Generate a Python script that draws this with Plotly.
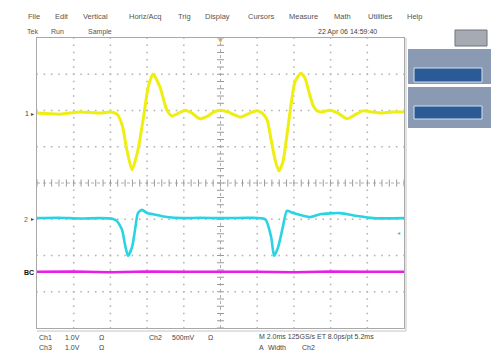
import numpy as np
import plotly.graph_objects as go

# ---------------- data (divisions; x: 2 ms/div, y: screen divisions) -------------
ch1_t = [-5.0, -4.37, -3.83, -3.28, -3.01, -2.82, -2.68, -2.55, -2.41, -2.25, -2.08, -1.97,
         -1.84, -1.65, -1.46, -1.32, -0.97, -0.78, -0.56, -0.34, -0.18, 0.0, 0.2, 0.53, 0.8,
         0.99, 1.13, 1.27, 1.38, 1.49, 1.59, 1.70, 1.81, 1.92, 2.03, 2.19, 2.30, 2.41, 2.52,
         2.63, 2.77, 2.98, 3.20, 3.45, 3.66, 3.88, 4.13, 4.35, 4.67, 5.0]
ch1_v = [1.93, 1.90, 1.96, 1.93, 1.96, 1.90, 1.60, 0.91, 0.36, 0.91, 1.93, 2.65,
         3.01, 2.65, 2.01, 1.85, 2.01, 1.93, 1.77, 1.85, 1.96, 2.01, 1.96, 1.82, 1.93,
         1.99, 1.93, 1.74, 1.19, 0.63, 0.33, 0.58, 1.32, 2.15, 2.79, 3.03, 2.90, 2.51, 2.15,
         1.99, 1.96, 2.01, 1.93, 1.77, 1.88, 1.99, 1.96, 1.93, 1.96, 1.96]

ch2_t = [-5.0, -4.4, -3.83, -3.3, -2.93, -2.82, -2.68, -2.60, -2.52, -2.41, -2.33, -2.25,
         -2.14, -2.00, -1.84, -1.46, -1.02, -0.56, 0.0, 0.80, 1.22, 1.38, 1.46, 1.57, 1.70,
         1.81, 1.98, 2.44, 2.71, 3.26, 3.72, 4.16, 5.0]
ch2_v = [-0.97, -0.96, -0.98, -0.97, -0.99, -1.05, -1.30, -1.71, -2.01, -1.77, -1.30, -0.83,
         -0.74, -0.83, -0.86, -0.94, -0.97, -0.96, -0.97, -0.96, -1.00, -1.49, -2.01, -1.77, -1.21,
         -0.77, -0.83, -0.94, -0.86, -0.83, -0.91, -0.97, -0.97]

ch3_t = [-5.0, -4.0, -3.0, -2.0, -1.0, 0.0, 1.0, 2.0, 3.0, 4.0, 5.0]
ch3_v = [-2.45, -2.44, -2.46, -2.44, -2.45, -2.44, -2.45, -2.46, -2.44, -2.45, -2.45]

menu_items = ["File", "Edit", "Vertical", "Horiz/Acq", "Trig", "Display",
              "Cursors", "Measure", "Math", "Utilities", "Help"]
status_items = ["Tek", "Run", "Sample"]
date_text = "22 Apr 06 14:59:40"

# ---------------- geometry helpers ----------------
W, H = 491, 352
L, R, T, B = 37, 404, 38, 328


def px(x):
    return (x - L) / (R - L)


def py(y):
    return (B - y) / (B - T)


fig = go.Figure()

# graticule dots
gx, gy = [], []
for xv in range(-4, 5):
    if xv == 0:
        continue
    for k in range(-20, 21):
        gx.append(xv); gy.append(k * 0.2)
for yv in range(-3, 4):
    if yv == 0:
        continue
    for k in range(-25, 26):
        gx.append(k * 0.2); gy.append(yv)
fig.add_trace(go.Scatter(x=gx, y=gy, mode="markers", hoverinfo="skip",
                         marker=dict(symbol="square", size=1.6, color="#b4b4b4"),
                         showlegend=False))
# center cross with ticks
cx = [k * 0.2 for k in range(-25, 26)]
fig.add_trace(go.Scatter(x=cx, y=[0] * len(cx), mode="lines+markers", hoverinfo="skip",
                         line=dict(color="#b0b0b0", width=1, dash="dot"),
                         marker=dict(symbol="line-ns", size=5, line=dict(width=1, color="#9a9a9a")),
                         showlegend=False))
cy = [k * 0.2 for k in range(-20, 21)]
fig.add_trace(go.Scatter(x=[0] * len(cy), y=cy, mode="lines+markers", hoverinfo="skip",
                         line=dict(color="#b0b0b0", width=1, dash="dot"),
                         marker=dict(symbol="line-ew", size=5, line=dict(width=1, color="#9a9a9a")),
                         showlegend=False))

# waveforms
fig.add_trace(go.Scatter(x=ch3_t, y=ch3_v, mode="lines", line=dict(color="#e81ee8", width=2.6),
                         showlegend=False))
fig.add_trace(go.Scatter(x=ch2_t, y=ch2_v, mode="lines",
                         line=dict(color="#28d4e4", width=2.6, shape="spline", smoothing=0.6),
                         showlegend=False))
fig.add_trace(go.Scatter(x=ch1_t, y=ch1_v, mode="lines",
                         line=dict(color="#eeee10", width=3, shape="spline", smoothing=0.6),
                         showlegend=False))

font = "Liberation Sans"
ann = []


def text(x, y, s, size=7, color="#444444", anchor="left", bold=False):
    ann.append(dict(x=px(x), y=py(y), xref="paper", yref="paper", text=("<b>%s</b>" % s) if bold else s,
                    showarrow=False, xanchor=anchor, yanchor="middle",
                    font=dict(family=font, size=size, color=color)))


menu_x = [26, 53, 81, 127, 176, 203, 246, 287, 332, 366, 405]
for s, x in zip(menu_items, menu_x):
    text(x, 16, s, size=7.5, color="#555555")
for s, x in zip(status_items, [25, 49, 86]):
    text(x, 32, s, size=7, color="#555555")
text(347, 32, date_text, size=7, anchor="center")

# bottom readouts
text(37, 337, "Ch1"); text(63, 337, "1.0V"); text(97, 337, "Ω")
text(37, 347, "Ch3"); text(63, 347, "1.0V"); text(97, 347, "Ω")
text(147, 337, "Ch2"); text(170, 337, "500mV"); text(206, 337, "Ω")
text(257, 337, "M 2.0ms 125GS/s ET 8.0ps/pt 5.2ms")
text(257, 347, "A"); text(266, 347, "Width"); text(300, 347, "Ch2")

# channel markers
text(31, 114, "1", size=7, anchor="right")
text(36, 114, "▸", size=6, color="#444", anchor="right")
text(30, 219, "2", size=7, anchor="right", color="#666")
text(36, 219, "▸", size=6, color="#444", anchor="right")
text(36, 272, "BC", size=7, anchor="right", color="#111", bold=True)
text(402, 233, "◂", size=6, color="#28d4e4", anchor="right")
text(220, 40, "▼", size=7, color="#f0a030", anchor="center")

fig.update_layout(annotations=ann)

shapes = []


def rect(x0, y0, x1, y1, fill, line=None, lw=0):
    shapes.append(dict(type="rect", xref="paper", yref="paper", x0=px(x0), x1=px(x1),
                       y0=py(y1), y1=py(y0), fillcolor=fill,
                       line=dict(color=line or fill, width=lw), layer="above"))


# outer double border (right/bottom)
shapes.append(dict(type="line", xref="paper", yref="paper", x0=px(406), x1=px(406),
                   y0=py(331), y1=py(38), line=dict(color="#c4c4c4", width=1)))
shapes.append(dict(type="line", xref="paper", yref="paper", x0=px(37), x1=px(406),
                   y0=py(331), y1=py(331), line=dict(color="#c4c4c4", width=1)))
# right side panels
rect(455, 30, 487, 46, "#a6aab2", "#6e737a", 1)
rect(408, 49, 491, 84, "#8a9ab3")
rect(408, 87, 491, 128, "#8a9ab3")
rect(414, 68, 482, 82, "#2b5a96", "#d4e2f2", 1)
rect(414, 106, 482, 119, "#2b5a96", "#d4e2f2", 1)
fig.update_layout(shapes=shapes)

fig.update_layout(
    width=W, height=H,
    margin=dict(l=L, r=W - R, t=T, b=H - B),
    paper_bgcolor="white", plot_bgcolor="white",
    xaxis=dict(range=[-5, 5], showgrid=False, zeroline=False, showticklabels=False, ticks="",
               showline=True, mirror=True, linecolor="#a8a8a8", linewidth=1, fixedrange=True),
    yaxis=dict(range=[-4, 4], showgrid=False, zeroline=False, showticklabels=False, ticks="",
               showline=True, mirror=True, linecolor="#a8a8a8", linewidth=1, fixedrange=True),
    showlegend=False,
)

fig.write_html("out.html", config={"displayModeBar": False},
               post_script="document.body.style.margin='0';document.body.style.overflow='hidden';")
